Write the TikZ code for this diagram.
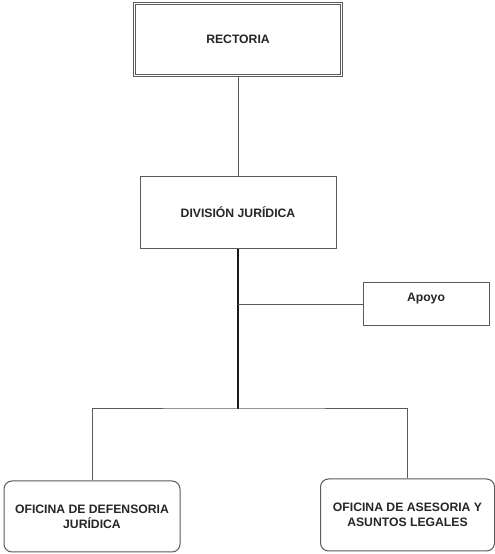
\documentclass[tikz,border=0pt]{standalone}
\usepackage{fontspec}
\setmainfont{Liberation Sans}
\usepackage{tikz}
\usetikzlibrary{positioning}
\definecolor{boxgray}{RGB}{90,90,90}

\begin{document}
\begin{tikzpicture}[x=1pt,y=1pt,node distance=100pt]
  \tikzstyle{every node}=[font=\bfseries\fontsize{12.2}{15}\selectfont,align=center,text=black!85]
  \tikzstyle{unit}=[draw=boxgray,line width=1pt,fill=white,inner sep=0pt]
  \tikzstyle{office}=[unit,rounded corners=8pt]
  \tikzstyle{link}=[draw=boxgray,line width=1pt]
  \tikzstyle{trunk}=[draw=black!90,line width=2pt]

  \useasboundingbox (0,0) rectangle (495,554);

  \node[unit,double=white,double distance=1.6pt,
        minimum width=207pt,minimum height=72pt]   (rectoria) at (238,514.5) {RECTORIA};
  \node[unit,minimum width=196pt,minimum height=72pt]
                                                   (division) [below=of rectoria] {DIVISIÓN JURÍDICA};
  \node[unit,minimum width=126pt,text height=19pt,text depth=24pt]
                                                   (apoyo) at (426,249.5) {Apoyo};
  \node[office,minimum width=176pt,minimum height=71pt] (defensoria) at (92,37.5)
                                                   {OFICINA DE DEFENSORIA\\JURÍDICA};
  \node[office,minimum width=174pt,minimum height=72pt] (asesoria) at (407.5,39)
                                                   {OFICINA DE ASESORIA Y\\ASUNTOS LEGALES};

  \coordinate (fork) at (238,145);

  \path[link] (rectoria.south) -- (division.north);
  \path[trunk] (division.south) -- (fork);
  \path[link] (division.south |- apoyo.west) -- (apoyo.west);
  \path[link] (defensoria.north) |- (fork) -| (asesoria.north);
\end{tikzpicture}
\end{document}
